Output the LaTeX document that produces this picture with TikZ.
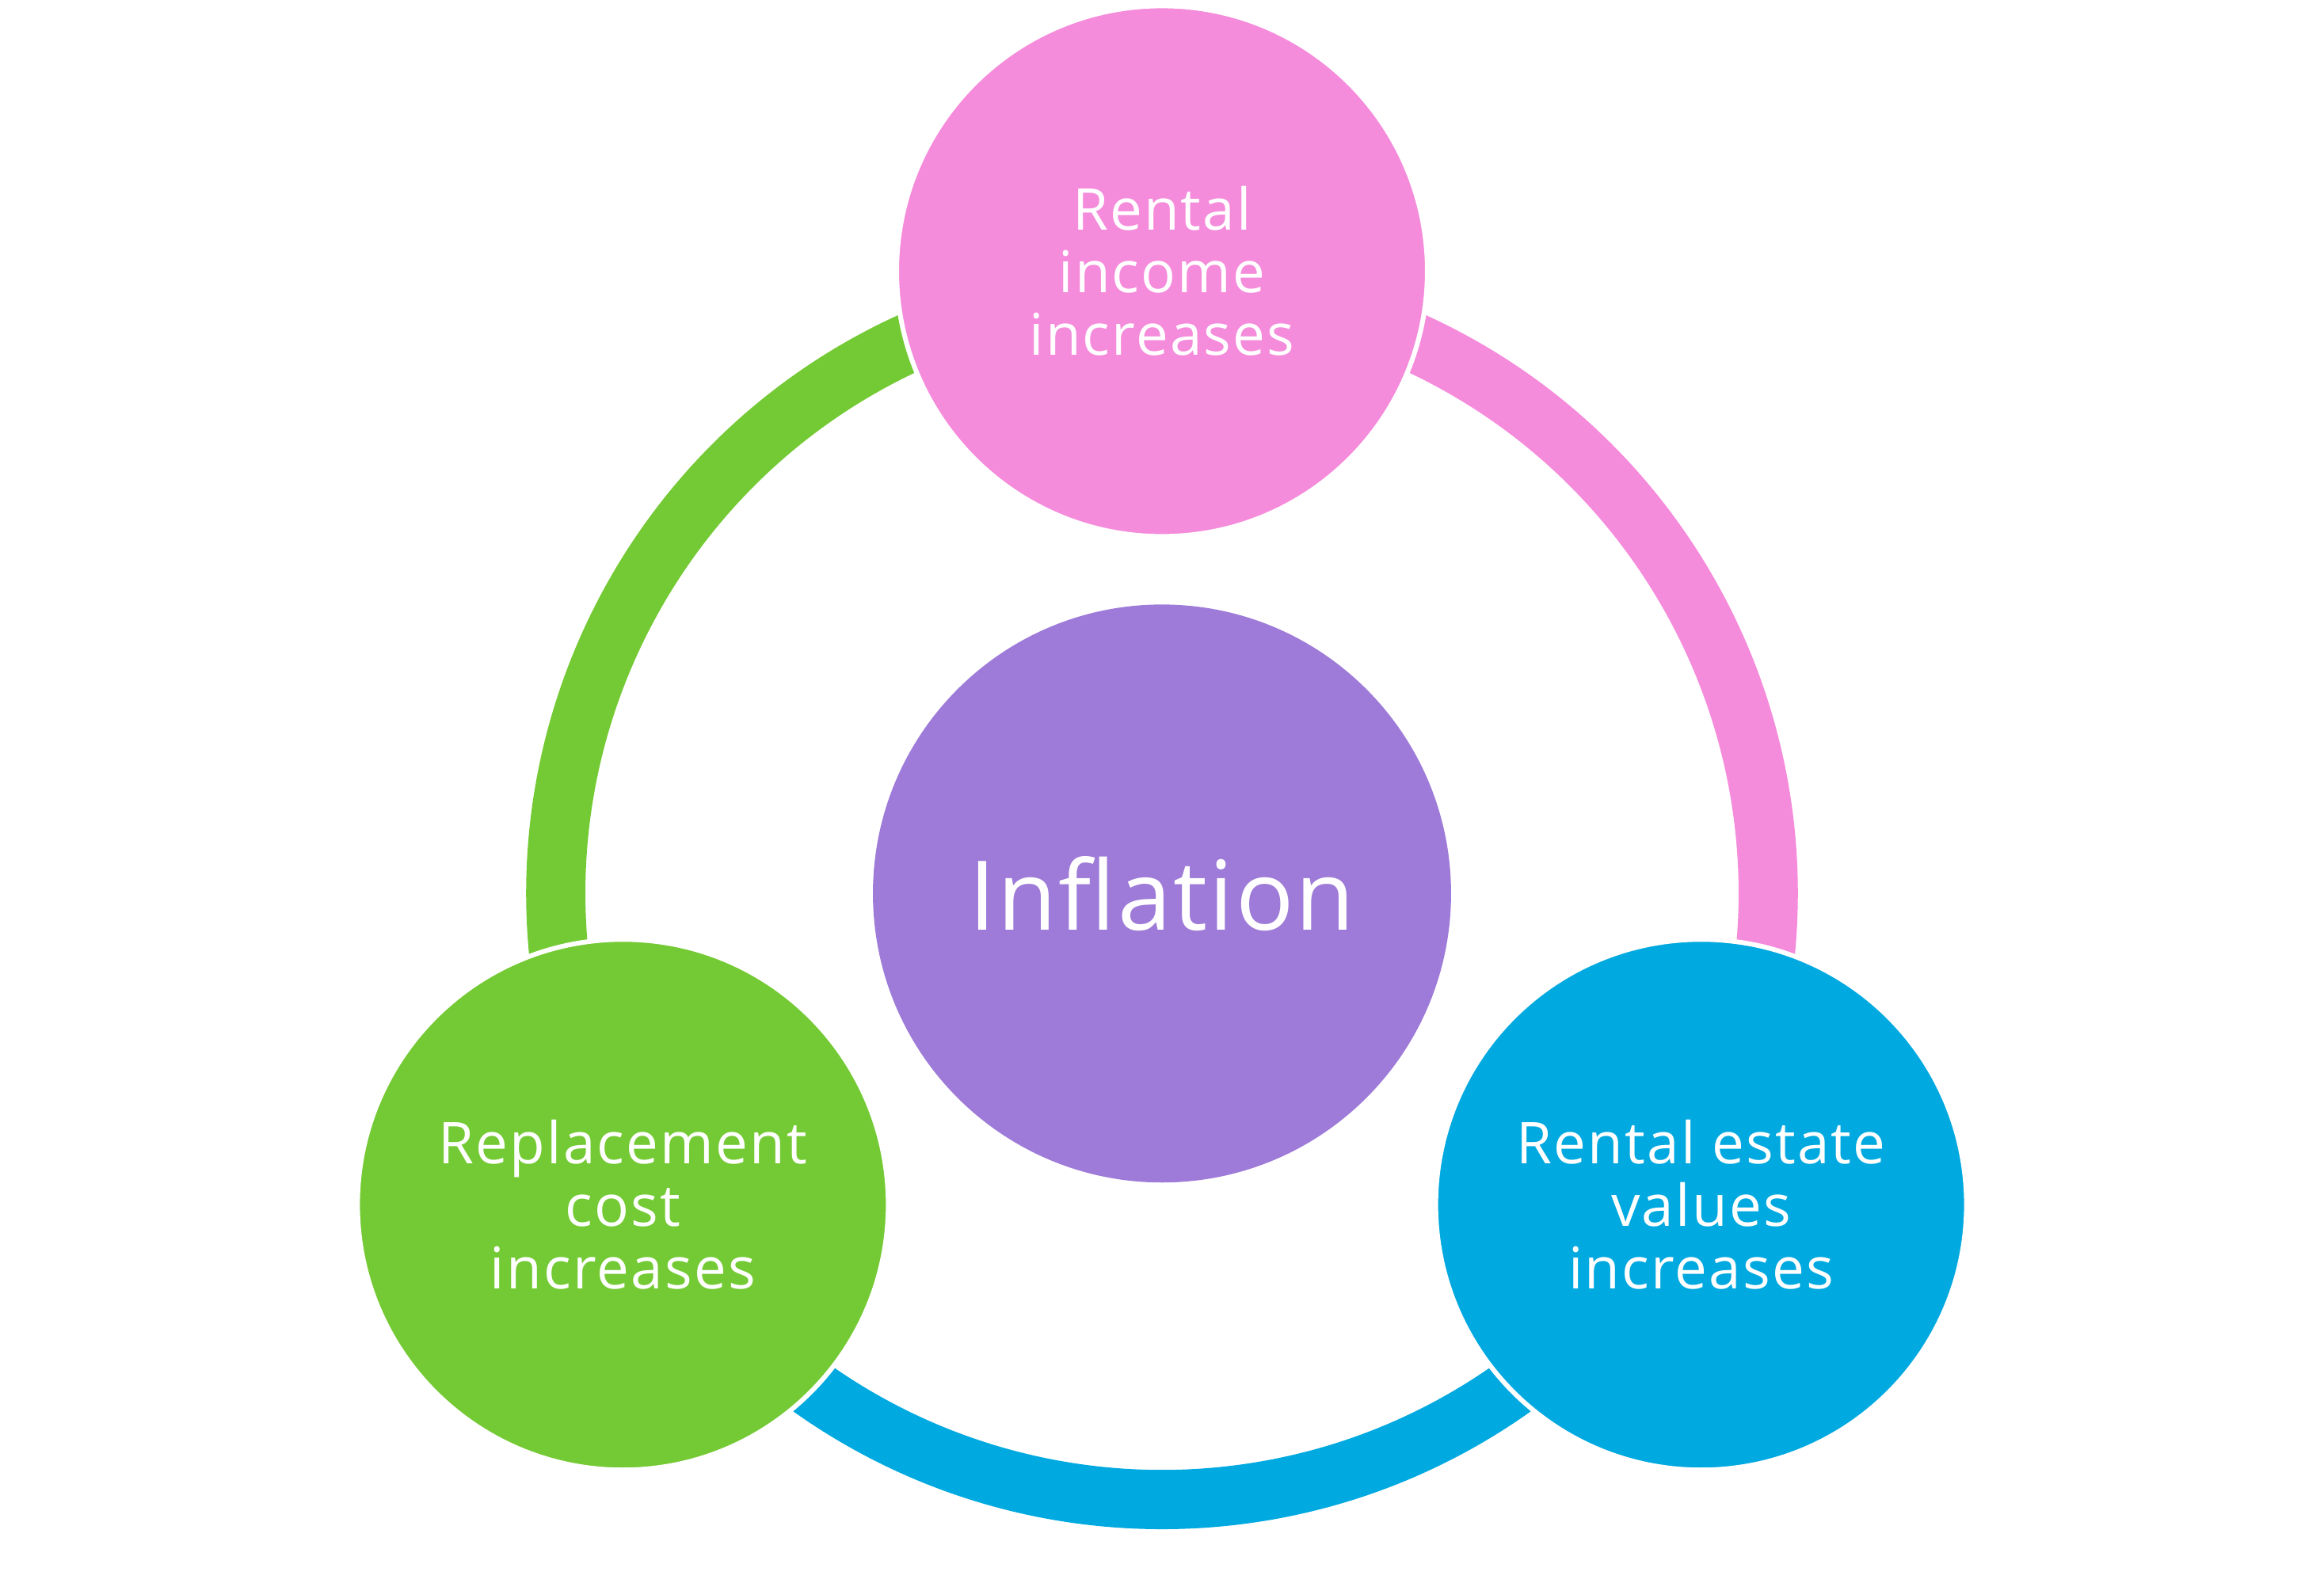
\documentclass[tikz,border=0pt]{standalone}
\usepackage{fontspec}
\setmainfont{Open Sans}
\newfontfamily\smallfnt[LetterSpace=3]{Open Sans}
\newfontfamily\bigfnt[LetterSpace=2]{Open Sans}
\definecolor{pinkc}{HTML}{F58BDB}
\definecolor{purplec}{HTML}{9E7BD8}
\definecolor{greenc}{HTML}{74CA34}
\definecolor{bluec}{HTML}{00A9E0}
\begin{document}
\begin{tikzpicture}[x=0.01871cm,y=0.01871cm,
  ringarc/.style={line width=0.748cm, line cap=butt},
  outercircle/.style={circle, draw=white, line width=0.06cm, minimum size=6.698cm, inner sep=0pt,
    text=white, align=center, font=\smallfnt\fontsize{20.7}{22.5}\selectfont},
  centercircle/.style={circle, fill=purplec, minimum size=7.297cm, inner sep=0pt,
    text=white, font=\bigfnt\fontsize{34.6}{40}\selectfont}]
\useasboundingbox (-784,-465) rectangle (784,603);
% ring arcs
\draw[ringarc, pinkc] (68:409) arc[start angle=68, end angle=-8, radius=409];
\draw[ringarc, greenc] (188:409) arc[start angle=188, end angle=112, radius=409];
\draw[ringarc, bluec] (308:409) arc[start angle=308, end angle=232, radius=409];
% circles
\node[centercircle] (infl) at (0,0) {Inflation};
\node[outercircle, fill=pinkc] (top) at (90:420) {Rental\\income\\increases};
\node[outercircle, fill=bluec] (right) at (-30:420) {Rental estate\\values\\increases};
\node[outercircle, fill=greenc] (left) at (210:420) {Replacement\\cost\\increases};
\end{tikzpicture}
\end{document}
